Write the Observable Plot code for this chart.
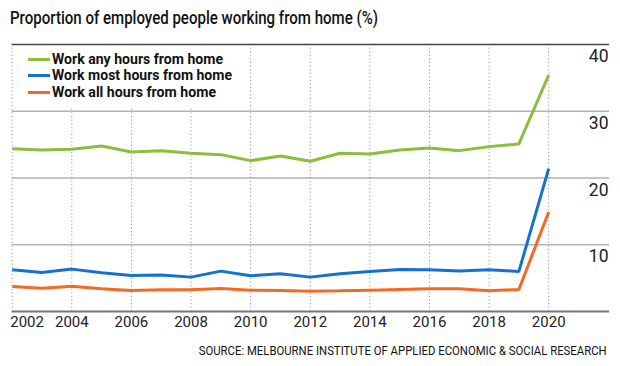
<!DOCTYPE html>
<html>
<head>
<meta charset="utf-8">
<script src="https://cdn.jsdelivr.net/npm/d3@7"></script>
<script src="https://cdn.jsdelivr.net/npm/@observablehq/plot@0.6"></script>
<style>
  body { margin:0; width:620px; height:366px; position:relative; overflow:hidden; background:#fff; }
  .cf { font-family: Roboto, "Noto Sans", sans-serif; }
  #title { position:absolute; left:10px; top:7.5px; font-size:18px; font-weight:500; line-height:20px; color:#111; white-space:nowrap; }
  #chart { position:absolute; left:0; top:36px; }
  #legend { position:absolute; left:14px; top:46px; width:222px; height:62px; background:#fff; }
  .row { position:absolute; left:0; height:16px; line-height:16px; display:flex; align-items:center; font-weight:bold; font-size:14px; color:#111; white-space:nowrap; }
  .sw { display:inline-block; width:22px; height:3px; margin-left:14px; margin-right:2px; }
  .lt { display:inline-block; }
  #source { position:absolute; right:13px; top:343px; font-size:13px; line-height:15px; color:#111; white-space:nowrap; }
</style>
</head>
<body>
<div id="title" class="cf">Proportion of employed people working from home (%)</div>
<div id="chart"></div>
<div id="legend" class="cf"></div>
<div id="source" class="cf">SOURCE: MELBOURNE INSTITUTE OF APPLIED ECONOMIC &amp; SOCIAL RESEARCH</div>
<script>
const years = [2002,2003,2004,2005,2006,2007,2008,2009,2010,2011,2012,2013,2014,2015,2016,2017,2018,2019,2020];
const anyHours  = [24.4,24.2,24.3,24.8,23.9,24.1,23.7,23.5,22.6,23.3,22.5,23.7,23.6,24.2,24.5,24.1,24.7,25.1,35.4];
const mostHours = [6.25,5.85,6.35,5.8,5.4,5.45,5.15,6.05,5.35,5.65,5.15,5.65,6.0,6.3,6.25,6.05,6.25,6.0,21.4];
const allHours  = [3.75,3.5,3.8,3.4,3.15,3.25,3.25,3.45,3.2,3.15,3.05,3.1,3.2,3.3,3.4,3.4,3.1,3.3,14.9];
const seriesNames = ["Work any hours from home","Work most hours from home","Work all hours from home"];
const seriesColors = ["#8cbd3f","#1670d0","#f46a25"];
const xTicks = [2002,2004,2006,2008,2010,2012,2014,2016,2018,2020];
const yTicks = [10,20,30,40];
const yGrid = [10,20,30];

const seriesValues = [anyHours, mostHours, allHours];
const data = [];
seriesNames.forEach((s,i) => years.forEach((y,j) => data.push({series:s, year:y, value:seriesValues[i][j]})));

const font = 'Roboto, "Noto Sans", sans-serif';

const chart = Plot.plot({
  width: 620,
  height: 300,
  marginTop: 8,
  marginBottom: 25,
  marginLeft: 11.7,
  marginRight: 11,
  style: { fontFamily: font, background: "transparent", overflow: "visible" },
  x: { domain: [2002, 2022.04], axis: null },
  y: { domain: [0, 40], axis: null },
  color: { domain: seriesNames, range: seriesColors },
  marks: [
    Plot.ruleY(yGrid, { stroke: "#b3b3b3", strokeWidth: 1.3 }),
    Plot.ruleX(xTicks, { stroke: "#8a8a8a", strokeWidth: 1, strokeDasharray: "1,2.6" }),
    Plot.ruleY([40], { stroke: "#444", strokeWidth: 1.5 }),
    Plot.ruleY([0], { stroke: "#777", strokeWidth: 2 }),
    Plot.line(data, { x: "year", y: "value", z: "series", stroke: "series", strokeWidth: 3, strokeLinejoin: "miter", strokeLinecap: "butt" }),
    Plot.text(yTicks, { y: d => d, frameAnchor: "right", textAnchor: "end", dx: -1, dy: 12, text: d => String(d), fontSize: 17.5, fill: "#222" }),
    Plot.text(xTicks.slice(0,1), { x: d => d, frameAnchor: "bottom", textAnchor: "start", lineAnchor: "top", dx: -2, dy: 5, text: d => String(d), fontSize: 15, fill: "#222" }),
    Plot.text(xTicks.slice(1), { x: d => d, frameAnchor: "bottom", textAnchor: "middle", lineAnchor: "top", dy: 5, text: d => String(d), fontSize: 15, fill: "#222" })
  ]
});
document.getElementById("chart").appendChild(chart);

const legend = document.getElementById("legend");
const rowTops = [5, 21, 38];
const labelEls = [];
seriesNames.forEach((s,i) => {
  const r = document.createElement("div");
  r.className = "row";
  r.style.top = rowTops[i] + "px";
  const sw = document.createElement("span");
  sw.className = "sw";
  sw.style.background = seriesColors[i];
  r.appendChild(sw);
  const t = document.createElement("span");
  t.className = "lt";
  t.textContent = s;
  r.appendChild(t);
  labelEls.push(t);
  legend.appendChild(r);
});

// condense texts horizontally to the reference's narrow face
function fit(el, target, origin) {
  const w = el.getBoundingClientRect().width;
  el.style.transformOrigin = origin;
  el.style.transform = `scaleX(${target / w})`;
}
fit(document.getElementById("title"), 368, "left top");
fit(document.getElementById("source"), 408, "right top");
fit(labelEls[0], 171, "left center");
fit(labelEls[1], 180, "left center");
fit(labelEls[2], 164, "left center");
</script>
</body>
</html>
